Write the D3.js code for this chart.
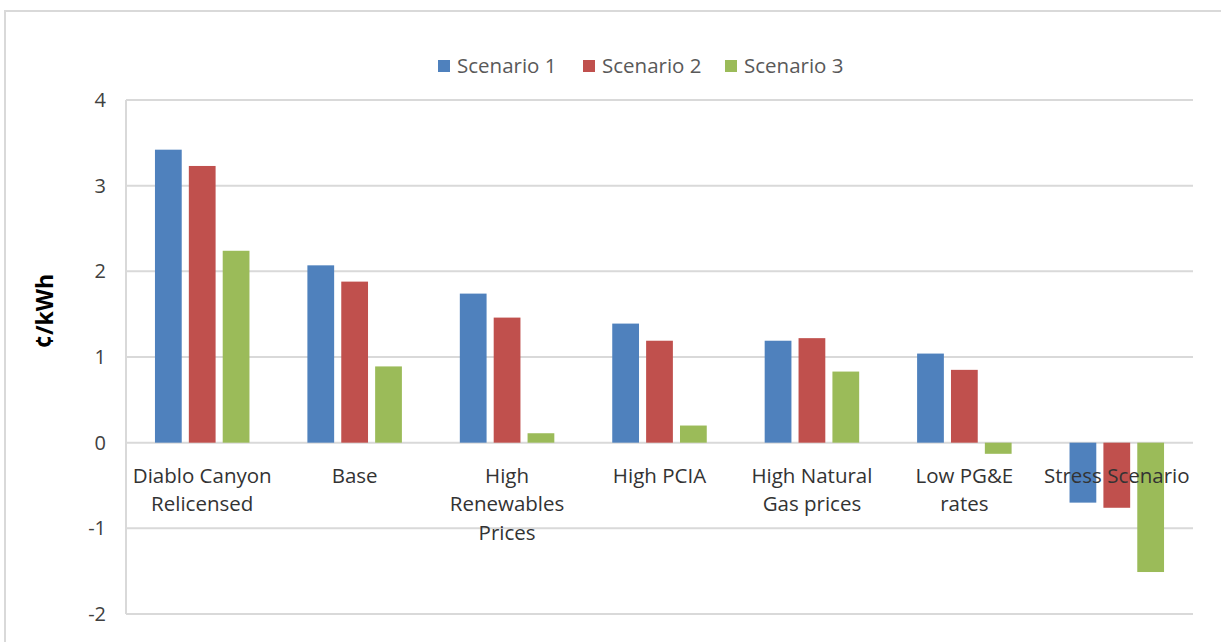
<!DOCTYPE html>
<html><head><meta charset="utf-8">
<script src="https://cdn.jsdelivr.net/npm/d3@7"></script>
<style>body{margin:0;background:#fff;} text{font-family:"Open Sans",sans-serif;}</style>
</head><body><svg id="c" width="1221" height="642"></svg>
<script>
const categories = ["Diablo Canyon Relicensed","Base","High Renewables Prices","High PCIA","High Natural Gas prices","Low PG&E rates","Stress Scenario"];
const categoryLines = [["Diablo Canyon","Relicensed"],["Base"],["High","Renewables","Prices"],["High PCIA"],["High Natural","Gas prices"],["Low PG&E","rates"],["Stress Scenario"]];
const seriesNames = ["Scenario 1","Scenario 2","Scenario 3"];
const scenario1 = [3.42, 2.07, 1.74, 1.39, 1.19, 1.04, -0.70];
const scenario2 = [3.23, 1.88, 1.46, 1.19, 1.22, 0.85, -0.76];
const scenario3 = [2.24, 0.89, 0.11, 0.20, 0.83, -0.13, -1.51];
const yTicks = [-2,-1,0,1,2,3,4];
const colors = ["#4F81BD","#C0504D","#9BBB59"];

const series = [scenario1, scenario2, scenario3];
const svg = d3.select("#c");
const L = 126, R = 1193, T = 100, B = 614;

svg.append("rect").attr("x",5).attr("y",11).attr("width",1240).attr("height",660)
  .attr("fill","none").attr("stroke","#d9d9d9").attr("stroke-width",2);

const y = d3.scaleLinear().domain([-2,4]).range([B,T]);
const x0 = d3.scaleBand().domain(categories).range([L,R]).paddingInner(0.38).paddingOuter(0.19);
const x1 = d3.scaleBand().domain(seriesNames).range([0,x0.bandwidth()]).paddingInner(0.21);

// gridlines
svg.append("g").selectAll("line").data(yTicks).join("line")
  .attr("x1",L).attr("x2",R).attr("y1",d=>y(d)).attr("y2",d=>y(d))
  .attr("stroke","#d9d9d9").attr("stroke-width",2);
svg.append("line").attr("x1",L).attr("x2",L).attr("y1",T).attr("y2",B)
  .attr("stroke","#d9d9d9").attr("stroke-width",2);

// bars
categories.forEach((c,i)=>{
  series.forEach((s,j)=>{
    const v = s[i];
    svg.append("rect")
      .attr("x", x0(c)+x1(seriesNames[j]))
      .attr("width", x1.bandwidth())
      .attr("y", y(Math.max(0,v)))
      .attr("height", Math.abs(y(v)-y(0)))
      .attr("fill", colors[j]);
  });
});

// y tick labels
svg.append("g").selectAll("text").data(yTicks).join("text")
  .attr("x",106).attr("y",d=>y(d)).attr("dy","0.35em").attr("text-anchor","end")
  .attr("font-size",20).attr("fill","#404040").text(d=>d);

// category labels
categories.forEach((c,i)=>{
  const cx = x0(c)+x0.bandwidth()/2;
  const t = svg.append("text").attr("text-anchor","middle").attr("font-size",20.5).attr("fill","#333");
  categoryLines[i].forEach((ln,k)=>{
    t.append("tspan").attr("x",cx).attr("y", y(0)+40+k*28.5).text(ln);
  });
});

// y axis title
svg.append("text").attr("transform","translate(53,311) rotate(-90)")
  .attr("text-anchor","middle").attr("font-size",23).attr("font-weight","bold").attr("fill","#000")
  .text("¢/kWh");

// legend
const legendX = [438, 583, 725];
seriesNames.forEach((n,j)=>{
  svg.append("rect").attr("x",legendX[j]).attr("y",60).attr("width",12).attr("height",12).attr("fill",colors[j]);
  svg.append("text").attr("x",legendX[j]+19).attr("y",66).attr("dy","0.35em")
    .attr("font-size",20.5).attr("fill","#595959").text(n);
});
</script></body></html>
